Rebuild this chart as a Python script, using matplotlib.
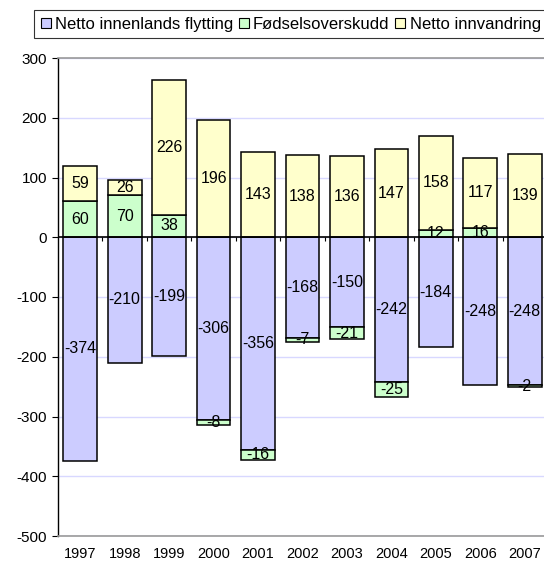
import numpy as np
import matplotlib.pyplot as plt
from matplotlib.patches import Patch

plt.rcParams['font.family'] = ['Liberation Sans', 'DejaVu Sans']
plt.rcParams['axes.unicode_minus'] = False

# -----------------------------------
# Data
# -----------------------------------
years = ["1997", "1998", "1999", "2000", "2001", "2002", "2003", "2004", "2005", "2006", "2007"]
innenlands = [-374, -210, -199, -306, -356, -168, -150, -242, -184, -248, -248]
fodsel = [60, 70, 38, -8, -16, -7, -21, -25, 12, 16, -2]
innvandring = [59, 26, 226, 196, 143, 138, 136, 147, 158, 117, 139]

series = [("Netto innenlands flytting", innenlands, "#ccccff"),
          ("Fødselsoverskudd", fodsel, "#ccffcc"),
          ("Netto innvandring", innvandring, "#ffffcc")]

# -----------------------------------
# Plot
# -----------------------------------
fig = plt.figure(figsize=(5.44, 5.65), dpi=100)
ax = fig.add_axes([58 / 544, 29 / 565, 489 / 544, 478 / 565])

x = np.arange(len(years))
pos_base = np.zeros(len(years))
neg_base = np.zeros(len(years))

for name, vals, col in series:
    vals = np.array(vals, dtype=float)
    bottoms = np.where(vals >= 0, pos_base, neg_base)
    ax.bar(x, vals, bottom=bottoms, width=0.76, color=col,
           edgecolor="black", linewidth=1.1, zorder=3)
    for xi, b, v in zip(x, bottoms, vals):
        ax.text(xi, b + v / 2, f"{int(v)}", ha="center", va="center",
                fontsize=11.5, zorder=5)
    pos_base = pos_base + np.where(vals >= 0, vals, 0)
    neg_base = neg_base + np.where(vals < 0, vals, 0)

# zero axis with category boundary ticks
ax.axhline(0, color="black", linewidth=1.2, zorder=4)
ax.vlines(x[:-1] + 0.5, -6, 0, color="black", linewidth=0.8, zorder=4)

ax.set_xlim(-0.5, len(years) - 0.5)
ax.set_ylim(-500, 300)
ax.set_yticks(np.arange(-500, 301, 100))
ax.set_xticks(x)
ax.set_xticklabels(years)
ax.tick_params(axis="x", length=0, pad=8, labelsize=10.5)
ax.tick_params(axis="y", length=4, width=0.8, labelsize=11, pad=4)

ax.grid(axis="y", color="#d8d8ff", linewidth=1, zorder=0)
ax.set_axisbelow(True)

for s in ["top", "bottom"]:
    ax.spines[s].set_color("#999999")
    ax.spines[s].set_linewidth(1.2)
ax.spines["right"].set_visible(False)
ax.spines["left"].set_color("black")
ax.spines["left"].set_linewidth(1)

handles = [Patch(facecolor=c, edgecolor="black", linewidth=0.8, label=n) for n, _, c in series]
leg = fig.legend(handles=handles, loc="upper left", bbox_to_anchor=(34 / 544, 1 - 10 / 565),
                 ncol=3, fontsize=12, frameon=True, fancybox=False, edgecolor="black",
                 handlelength=0.6, handleheight=0.6, handletextpad=0.25, columnspacing=0.35,
                 borderpad=0.4, borderaxespad=0)
leg.get_frame().set_linewidth(0.8)

fig.savefig("out.png", dpi=100)
